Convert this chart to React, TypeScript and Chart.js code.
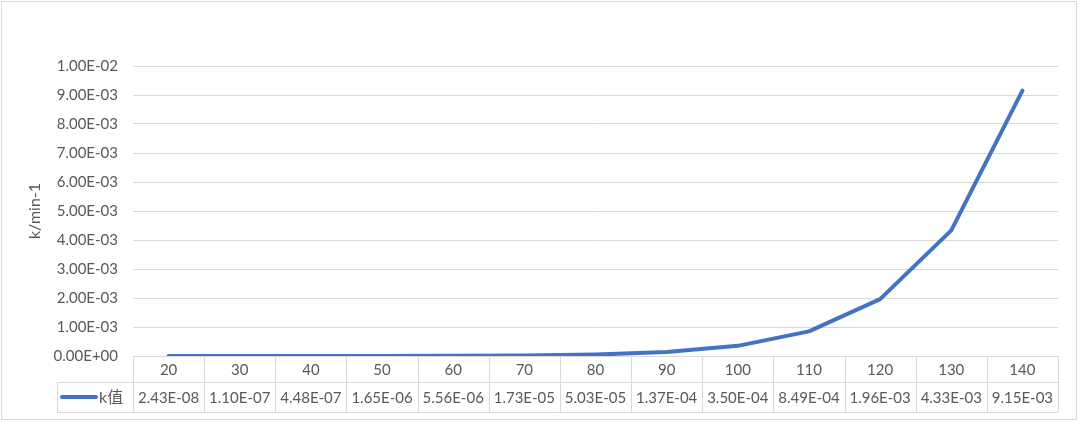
import React, { useEffect, useRef } from "react";
import { Chart, registerables } from "chart.js";

Chart.register(...registerables);

// Reaction temperatures (category axis) and the rate constant k at each one
const temperatures = ["20", "30", "40", "50", "60", "70", "80", "90", "100", "110", "120", "130", "140"];
const kValues = [
  2.43e-8, 1.1e-7, 4.48e-7, 1.65e-6, 5.56e-6, 1.73e-5, 5.03e-5, 1.37e-4, 3.5e-4, 8.49e-4, 1.96e-3, 4.33e-3, 9.15e-3,
];
const seriesName = "k值";
const yAxisTitle = "k/min-1";
const yMin = 0;
const yMax = 0.01;
const yStep = 0.001;

const LINE_COLOR = "#4472C4";
const GRID_COLOR = "#d9d9d9";
const TEXT_COLOR = "#595959";
const FONT_FAMILY = "Lato, 'Noto Sans CJK SC', sans-serif";

// Excel-style scientific notation: 2.43E-08
function sci(v: number): string {
  if (Math.abs(v) < 1e-15) return "0.00E+00";
  const [mant, exp] = v.toExponential(2).split("e");
  const n = parseInt(exp, 10);
  return `${mant}E${n < 0 ? "-" : "+"}${String(Math.abs(n)).padStart(2, "0")}`;
}

// Chart frame drawn behind everything
const framePlugin = {
  id: "frame",
  beforeDraw(chart: any) {
    const { ctx, width, height } = chart;
    ctx.save();
    ctx.fillStyle = "#ffffff";
    ctx.fillRect(0, 0, width, height);
    ctx.strokeStyle = GRID_COLOR;
    ctx.lineWidth = 1;
    ctx.strokeRect(1.5, 1.5, 1075, 418);
    ctx.restore();
  },
};

// Data table under the plot: category row, then legend key + values row
const dataTablePlugin = {
  id: "dataTable",
  afterDraw(chart: any) {
    const { ctx, chartArea } = chart;
    const xScale = chart.scales.x;
    const n = temperatures.length;
    const colW = (chartArea.right - chartArea.left) / n;
    const top = chartArea.bottom;
    const mid = top + 26;
    const bottom = mid + 30;
    const legendLeft = 57;

    ctx.save();
    ctx.strokeStyle = GRID_COLOR;
    ctx.lineWidth = 1;
    ctx.beginPath();
    // horizontal rules
    ctx.moveTo(chartArea.left, Math.round(top) + 0.5);
    ctx.lineTo(chartArea.right, Math.round(top) + 0.5);
    ctx.moveTo(legendLeft, Math.round(mid) + 0.5);
    ctx.lineTo(chartArea.right, Math.round(mid) + 0.5);
    ctx.moveTo(legendLeft, Math.round(bottom) + 0.5);
    ctx.lineTo(chartArea.right, Math.round(bottom) + 0.5);
    // vertical rules
    for (let i = 0; i <= n; i++) {
      const x = Math.round(chartArea.left + i * colW) + 0.5;
      ctx.moveTo(x, top);
      ctx.lineTo(x, bottom);
    }
    ctx.moveTo(legendLeft + 0.5, mid);
    ctx.lineTo(legendLeft + 0.5, bottom);
    ctx.stroke();

    ctx.fillStyle = TEXT_COLOR;
    ctx.font = `15px ${FONT_FAMILY}`;
    ctx.textAlign = "center";
    ctx.textBaseline = "middle";
    temperatures.forEach((t, i) => {
      const x = xScale.getPixelForValue(i);
      ctx.fillText(t, x, (top + mid) / 2 + 1);
      ctx.fillText(sci(kValues[i]), x, (mid + bottom) / 2 + 1);
    });

    // legend key
    const ky = (mid + bottom) / 2;
    ctx.strokeStyle = LINE_COLOR;
    ctx.lineWidth = 4;
    ctx.lineCap = "round";
    ctx.beginPath();
    ctx.moveTo(62, ky);
    ctx.lineTo(96, ky);
    ctx.stroke();
    ctx.fillStyle = TEXT_COLOR;
    ctx.font = `16px ${FONT_FAMILY}`;
    ctx.textAlign = "left";
    ctx.fillText(seriesName, 99, ky + 1);
    ctx.restore();
  },
};

export default function App() {
  const canvasRef = useRef<HTMLCanvasElement | null>(null);

  useEffect(() => {
    if (!canvasRef.current) return;
    const chart = new Chart(canvasRef.current, {
      type: "line",
      data: {
        labels: temperatures,
        datasets: [
          {
            label: seriesName,
            data: kValues,
            borderColor: LINE_COLOR,
            backgroundColor: LINE_COLOR,
            borderWidth: 4,
            pointRadius: 0,
            tension: 0,
            borderCapStyle: "round",
            borderJoinStyle: "round",
          },
        ],
      },
      options: {
        responsive: false,
        animation: false,
        layout: { padding: { left: 0, right: 22, top: 66, bottom: 66 } },
        plugins: {
          legend: { display: false },
          title: { display: false },
          tooltip: { enabled: false },
        },
        scales: {
          x: {
            type: "category",
            offset: true,
            display: false,
          },
          y: {
            min: yMin,
            max: yMax,
            afterFit(scale: any) {
              scale.width = 133;
            },
            border: { display: false },
            grid: { color: GRID_COLOR, lineWidth: 1, drawTicks: false },
            ticks: {
              stepSize: yStep,
              padding: 15,
              color: TEXT_COLOR,
              font: { family: FONT_FAMILY, size: 15 },
              callback: (v: any) => sci(Number(v)),
            },
            title: {
              display: true,
              text: yAxisTitle,
              color: TEXT_COLOR,
              font: { family: FONT_FAMILY, size: 16 },
              padding: { top: 25, bottom: 0 },
            },
          },
        },
      },
      plugins: [framePlugin, dataTablePlugin],
    });
    return () => chart.destroy();
  }, []);

  return (
    <div style={{ position: "fixed", left: 0, top: 0, width: 1080, height: 422, background: "#fff" }}>
      <canvas ref={canvasRef} width={1080} height={422} />
    </div>
  );
}
